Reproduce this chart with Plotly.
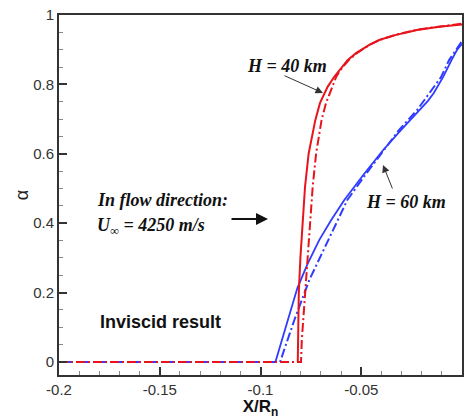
import plotly.graph_objects as go

# Red: H = 40 km ; Blue: H = 60 km ; solid and dash-dot variants
red_solid_x = [-0.0815, -0.0813, -0.0810, -0.0802, -0.0791, -0.0779, -0.0761, -0.0746, -0.0728, -0.0705,
               -0.0667, -0.0634, -0.0609, -0.0568, -0.0526, -0.0460, -0.0411, -0.0332, -0.0223, -0.0114, 0.0]
red_solid_y = [0.0, 0.100, 0.200, 0.300, 0.409, 0.505, 0.601, 0.650, 0.697, 0.746,
               0.793, 0.822, 0.841, 0.870, 0.890, 0.914, 0.928, 0.942, 0.957, 0.966, 0.973]

red_dd_x = [-0.2, -0.0799, -0.0795, -0.0774, -0.0754, -0.0741, -0.0724, -0.0697, -0.0675, -0.0644, -0.0624,
            -0.0604, -0.0562, -0.0522, -0.0458, -0.0409, -0.0330, -0.0221, -0.0112, 0.0]
red_dd_y = [0.0, 0.0, 0.063, 0.236, 0.409, 0.505, 0.601, 0.697, 0.746, 0.793, 0.822,
            0.841, 0.870, 0.890, 0.914, 0.928, 0.943, 0.958, 0.967, 0.975]

blue_solid_x = [-0.0926, -0.0871, -0.0817, -0.0767, -0.0708, -0.0649, -0.0584, -0.0490, -0.0391, -0.0302,
                -0.0210, -0.0170, -0.0140, -0.0094, -0.0052, -0.0025, 0.0]
blue_solid_y = [0.0, 0.107, 0.213, 0.282, 0.352, 0.409, 0.467, 0.539, 0.611, 0.669,
                0.726, 0.752, 0.775, 0.821, 0.870, 0.899, 0.917]

blue_dd_x = [-0.2, -0.0903, -0.0832, -0.0758, -0.0663, -0.0569, -0.0480, -0.0386, -0.0312, -0.0223,
             -0.0163, -0.0104, -0.0064, -0.0025, 0.0]
blue_dd_y = [0.0, 0.0, 0.121, 0.236, 0.352, 0.467, 0.539, 0.611, 0.669, 0.726,
             0.775, 0.821, 0.870, 0.905, 0.925]

x_ticks = [-0.2, -0.15, -0.1, -0.05, 0]
x_tick_text = ["-0.2", "-0.15", "-0.1", "-0.05", "0"]
y_ticks = [0, 0.2, 0.4, 0.6, 0.8, 1]
y_tick_text = ["0", "0.2", "0.4", "0.6", "0.8", "1"]

RED = "#e8141c"
BLUE = "#2f3cff"

fig = go.Figure()
fig.add_trace(go.Scatter(x=blue_dd_x, y=blue_dd_y, mode="lines",
                         line=dict(color=BLUE, width=2, dash="2px,3px,9px,3px"), showlegend=False))
fig.add_trace(go.Scatter(x=blue_solid_x, y=blue_solid_y, mode="lines",
                         line=dict(color=BLUE, width=1.8), showlegend=False))
fig.add_trace(go.Scatter(x=red_dd_x, y=red_dd_y, mode="lines",
                         line=dict(color=RED, width=2, dash="9px,3px,2px,3px"), showlegend=False))
fig.add_trace(go.Scatter(x=red_solid_x, y=red_solid_y, mode="lines",
                         line=dict(color=RED, width=2), showlegend=False))

W, H = 466, 419
L, R, T, B = 59, 4, 15, 44
pw, ph = W - L - R, H - T - B

def px2paper(px, py):
    return (px - L) / pw, (H - B - py) / ph

serif = dict(family="Liberation Serif, Times New Roman, serif", size=18, color="#111")
sans = dict(family="Liberation Sans, Arial, sans-serif", size=18, color="#111")

labels = [
    (287, 66, "<b><i>H = 40 km</i></b>", serif),
    (406, 202, "<b><i>H = 60 km</i></b>", serif),
    (162, 200, "<b><i>In flow direction:</i></b>", serif),
    (151, 226, "<b><i>U<sub>∞</sub> = 4250 m/s</i></b>", serif),
    (160, 322, "<b>Inviscid result</b>", sans),
]
out = []
for px, py, txt, f in labels:
    x, y = px2paper(px, py)
    out.append(dict(x=x, y=y, xref="paper", yref="paper", text=txt, showarrow=False,
                    font=f, xanchor="center", yanchor="middle"))

def arrow(x0, y0, x1, y1, width=1, size=1.2, color="#222"):
    x, y = px2paper(x1, y1)
    return dict(xref="paper", yref="paper", axref="pixel", ayref="pixel",
                x=x, y=y, ax=x0 - x1, ay=y0 - y1,
                showarrow=True, arrowhead=2, arrowsize=size, arrowwidth=width,
                arrowcolor=color, text="")

out.append(arrow(283, 75, 323, 93, width=1, size=1.5, color="#333"))
out.append(arrow(393, 190, 383, 165, width=1, size=1.5, color="#333"))
out.append(arrow(230, 219, 268, 219, width=2, size=1.2, color="#111"))

axis_common = dict(showline=True, linecolor="#333", linewidth=2, mirror=True,
                   ticks="inside", ticklen=8, tickwidth=2, tickcolor="#333",
                   showgrid=False, zeroline=False,
                   tickfont=dict(family="Liberation Sans, Arial, sans-serif", size=15, color="#333"))

fig.update_layout(
    width=W, height=H,
    margin=dict(l=L, r=R, t=T, b=B),
    plot_bgcolor="white", paper_bgcolor="white",
    annotations=out,
    xaxis=dict(range=[-0.2, 0], tickvals=x_ticks, ticktext=x_tick_text,
               minor=dict(dtick=0.01, ticks="inside", ticklen=4, tickcolor="#888", tickwidth=1),
               title=dict(text="<b>X/R<sub>n</sub></b>", standoff=2,
                          font=dict(family="Liberation Sans, Arial, sans-serif", size=17, color="#111")),
               automargin=False, **axis_common),
    yaxis=dict(range=[-0.0375, 1.0], tickvals=y_ticks, ticktext=y_tick_text,
               minor=dict(dtick=0.05, ticks="inside", ticklen=4, tickcolor="#888", tickwidth=1),
               title=dict(text="α", standoff=0,
                          font=dict(family="Liberation Sans, Arial, sans-serif", size=18, color="#222")),
               automargin=False, **axis_common),
)

fig.write_html("out.html", config={"displayModeBar": False},
               post_script="document.body.style.margin='0px';document.body.style.overflow='hidden';")
